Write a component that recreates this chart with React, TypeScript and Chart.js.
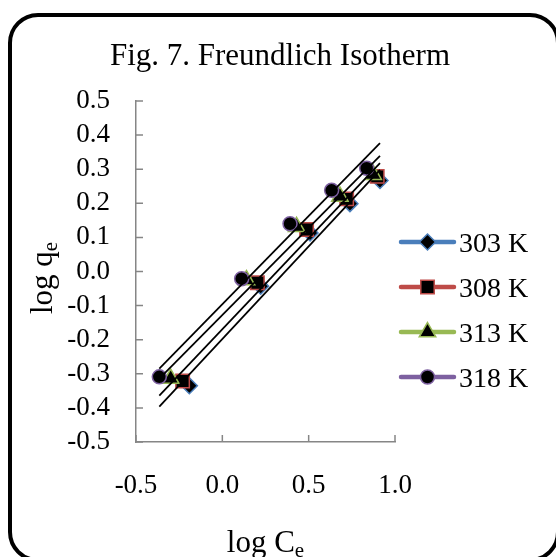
import React, { useEffect, useRef } from 'react';
import { Chart, registerables } from 'chart.js';

Chart.register(...registerables);

// ---- data ----
const SERIES_LABELS = ['303 K', '308 K', '313 K', '318 K'];
const LOG_CE_303 = [-0.191, 0.222, 0.508, 0.739, 0.913];
const LOG_QE_303 = [-0.335, -0.043, 0.113, 0.199, 0.267];
const LOG_CE_308 = [-0.23, 0.203, 0.488, 0.72, 0.897];
const LOG_QE_308 = [-0.321, -0.033, 0.123, 0.213, 0.279];
const LOG_CE_313 = [-0.299, 0.14, 0.43, 0.681, 0.874];
const LOG_QE_313 = [-0.314, -0.025, 0.131, 0.22, 0.284];
const LOG_CE_318 = [-0.365, 0.112, 0.392, 0.633, 0.836];
const LOG_QE_318 = [-0.309, -0.021, 0.14, 0.238, 0.303];
const X_TICKS = [-0.5, 0.0, 0.5, 1.0];
const Y_TICKS = [-0.5, -0.4, -0.3, -0.2, -0.1, 0.0, 0.1, 0.2, 0.3, 0.4, 0.5];

const TITLE = 'Fig. 7. Freundlich Isotherm';
const X_TITLE = ['log C', 'e'];
const Y_TITLE = ['log q', 'e'];

// ---- styles ----
const FONT = "'Liberation Serif', 'Times New Roman', serif";
const COLORS = ['#4A7EBB', '#BE4B48', '#98B954', '#7D60A0'];
const STYLES = ['rectRot', 'rect', 'triangle', 'circle'];
const RADII = [8, 9.5, 9.5, 7];
const AXIS_COLOR = '#868686';

const XS = [LOG_CE_303, LOG_CE_308, LOG_CE_313, LOG_CE_318];
const YS = [LOG_QE_303, LOG_QE_308, LOG_QE_313, LOG_QE_318];

function linFit(xs: number[], ys: number[]) {
  const n = xs.length;
  const mx = xs.reduce((a, b) => a + b, 0) / n;
  const my = ys.reduce((a, b) => a + b, 0) / n;
  let sxy = 0, sxx = 0;
  for (let i = 0; i < n; i++) {
    sxy += (xs[i] - mx) * (ys[i] - my);
    sxx += (xs[i] - mx) * (xs[i] - mx);
  }
  const m = sxy / sxx;
  return { m, b: my - m * mx };
}

function drawMarker(ctx: CanvasRenderingContext2D, style: string, x: number, y: number, r: number, color: string) {
  ctx.beginPath();
  if (style === 'circle') {
    ctx.arc(x, y, r, 0, Math.PI * 2);
  } else if (style === 'rect') {
    const h = r * Math.SQRT1_2;
    ctx.rect(x - h, y - h, 2 * h, 2 * h);
  } else if (style === 'rectRot') {
    ctx.moveTo(x, y - r);
    ctx.lineTo(x + r, y);
    ctx.lineTo(x, y + r);
    ctx.lineTo(x - r, y);
    ctx.closePath();
  } else if (style === 'triangle') {
    let rad = 0;
    ctx.moveTo(x + Math.sin(rad) * r, y - Math.cos(rad) * r);
    rad += (2 * Math.PI) / 3;
    ctx.lineTo(x + Math.sin(rad) * r, y - Math.cos(rad) * r);
    rad += (2 * Math.PI) / 3;
    ctx.lineTo(x + Math.sin(rad) * r, y - Math.cos(rad) * r);
    ctx.closePath();
  }
  ctx.fillStyle = '#000';
  ctx.fill();
  ctx.lineWidth = 1.5;
  ctx.strokeStyle = color;
  ctx.stroke();
}

function drawSubText(ctx: CanvasRenderingContext2D, parts: string[], x: number, y: number, big: number, small: number, drop: number) {
  ctx.font = `${big}px ${FONT}`;
  const w1 = ctx.measureText(parts[0]).width;
  ctx.font = `${small}px ${FONT}`;
  const w2 = ctx.measureText(parts[1]).width;
  const start = x - (w1 + w2) / 2;
  ctx.textAlign = 'left';
  ctx.textBaseline = 'alphabetic';
  ctx.font = `${big}px ${FONT}`;
  ctx.fillText(parts[0], start, y);
  ctx.font = `${small}px ${FONT}`;
  ctx.fillText(parts[1], start + w1, y + drop);
}

const decorPlugin = {
  id: 'decor',
  afterDraw(chart: any) {
    const { ctx, chartArea: ca } = chart;
    const xs = chart.scales.x;
    const ys = chart.scales.y;
    ctx.save();
    // inside tick marks
    ctx.strokeStyle = AXIS_COLOR;
    ctx.lineWidth = 1.5;
    ctx.beginPath();
    ys.ticks.forEach((t: any) => {
      const py = ys.getPixelForValue(t.value);
      ctx.moveTo(ca.left, py);
      ctx.lineTo(ca.left + 7, py);
    });
    xs.ticks.forEach((t: any) => {
      const px = xs.getPixelForValue(t.value);
      ctx.moveTo(px, ca.bottom);
      ctx.lineTo(px, ca.bottom - 7);
    });
    ctx.stroke();

    ctx.fillStyle = '#000';
    // chart title
    ctx.font = `31px ${FONT}`;
    ctx.textAlign = 'center';
    ctx.textBaseline = 'alphabetic';
    ctx.fillText(TITLE, 280, 65);

    // x axis title
    drawSubText(ctx, X_TITLE, (ca.left + ca.right) / 2, 551.5, 31, 21, 5);

    // y axis title
    ctx.save();
    ctx.translate(52, 0);
    ctx.rotate(-Math.PI / 2);
    drawSubText(ctx, Y_TITLE, -278, 0, 31, 21, 5);
    ctx.restore();

    // legend
    const legendY = [242, 287, 332, 377];
    SERIES_LABELS.forEach((lab, i) => {
      const yy = legendY[i];
      ctx.beginPath();
      ctx.lineCap = 'round';
      ctx.lineWidth = 4.5;
      ctx.strokeStyle = COLORS[i];
      ctx.moveTo(401, yy);
      ctx.lineTo(454, yy);
      ctx.stroke();
      drawMarker(ctx, STYLES[i], 427.5, yy, RADII[i], COLORS[i]);
      ctx.fillStyle = '#000';
      ctx.font = `28px ${FONT}`;
      ctx.textAlign = 'left';
      ctx.textBaseline = 'alphabetic';
      ctx.fillText(lab, 459, yy + 10);
    });
    ctx.restore();
  },
};

export default function App() {
  const ref = useRef<HTMLCanvasElement>(null);
  useEffect(() => {
    const allX = XS.flat();
    const tMin = Math.min(...allX);
    const tMax = Math.max(...allX);
    const trendSets = XS.map((xs, i) => {
      const { m, b } = linFit(xs, YS[i]);
      return {
        type: 'line' as const,
        label: 'trend ' + SERIES_LABELS[i],
        data: [
          { x: tMin, y: m * tMin + b },
          { x: tMax, y: m * tMax + b },
        ],
        borderColor: '#000',
        borderWidth: 1.75,
        pointRadius: 0,
        showLine: true,
        fill: false,
        order: 0,
      };
    });
    const pointSets = XS.map((xs, i) => ({
      type: 'scatter' as const,
      label: SERIES_LABELS[i],
      data: xs.map((x, j) => ({ x, y: YS[i][j] })),
      pointStyle: STYLES[i],
      pointRadius: RADII[i],
      pointHoverRadius: RADII[i],
      pointBackgroundColor: '#000',
      pointBorderColor: COLORS[i],
      pointBorderWidth: 1.5,
      showLine: false,
      order: 5 - i,
    }));
    const tickFont = { family: FONT, size: 27 };
    const fmt = (v: any) => (Math.abs(Number(v)) < 1e-9 ? 0 : Number(v)).toFixed(1);
    const chart = new Chart(ref.current as HTMLCanvasElement, {
      type: 'scatter',
      data: { datasets: [...trendSets, ...pointSets] as any },
      options: {
        animation: false,
        responsive: false,
        maintainAspectRatio: false,
        layout: { padding: { left: 0, top: 101, right: 161, bottom: 0 } },
        plugins: {
          legend: { display: false },
          tooltip: { enabled: false },
          title: { display: false },
        },
        scales: {
          x: {
            type: 'linear',
            min: -0.5,
            max: 1.0,
            afterBuildTicks: (s: any) => {
              s.ticks = X_TICKS.map((v) => ({ value: v }));
            },
            afterFit: (s: any) => {
              s.height = 115;
            },
            ticks: { font: tickFont, color: '#000', padding: 28, maxRotation: 0, autoSkip: false, callback: fmt },
            grid: { display: false, drawTicks: false },
            border: { display: true, color: AXIS_COLOR, width: 1.5 },
          },
          y: {
            type: 'linear',
            min: -0.5,
            max: 0.5,
            afterBuildTicks: (s: any) => {
              s.ticks = Y_TICKS.map((v) => ({ value: v }));
            },
            afterFit: (s: any) => {
              s.width = 136;
            },
            ticks: { font: tickFont, color: '#000', padding: 26, autoSkip: false, callback: fmt },
            grid: { display: false, drawTicks: false },
            border: { display: true, color: AXIS_COLOR, width: 1.5 },
          },
        },
      },
      plugins: [decorPlugin],
    } as any);
    return () => chart.destroy();
  }, []);
  return (
    <div
      style={{
        position: 'fixed',
        left: 0,
        top: 0,
        width: 556,
        height: 557,
        overflow: 'hidden',
        background: '#fff',
      }}
    >
      <div
        style={{
          position: 'absolute',
          left: 8,
          top: 13,
          width: 552,
          height: 549,
          boxSizing: 'border-box',
          border: '4px solid #000',
          borderRadius: 30,
        }}
      />
      <canvas
        ref={ref}
        width={556}
        height={557}
        style={{ position: 'absolute', left: 0, top: 0, width: 556, height: 557 }}
      />
    </div>
  );
}
